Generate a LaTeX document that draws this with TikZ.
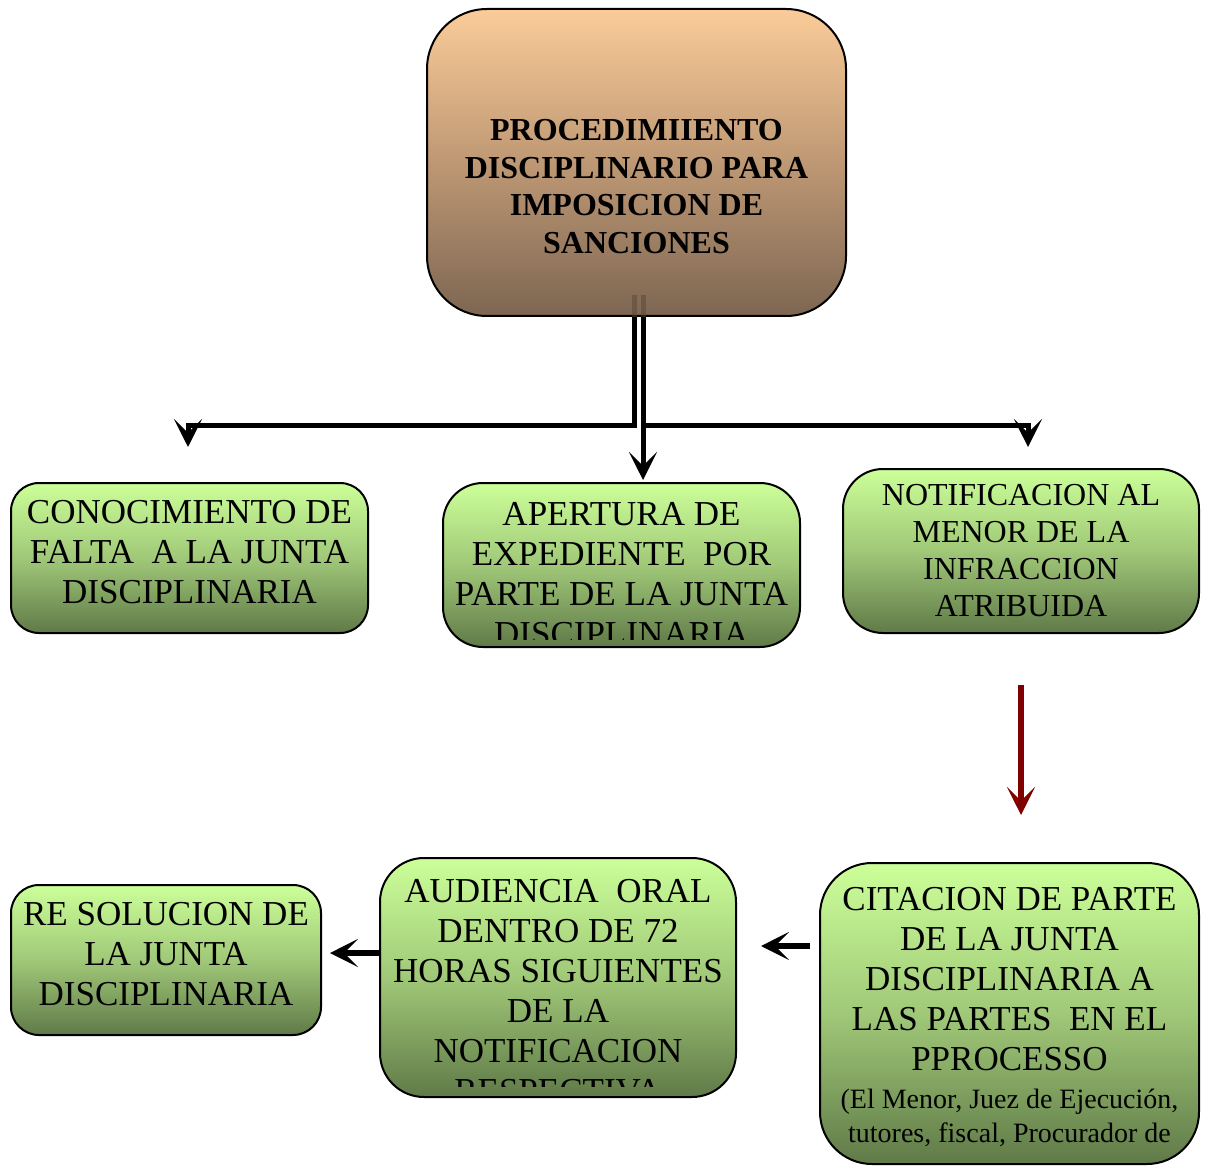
\documentclass[tikz,border=0pt]{standalone}
\usepackage{fontspec}
\setmainfont{Liberation Serif}
\usetikzlibrary{arrows.meta, positioning}

\definecolor{peach}{RGB}{251,204,153}
\definecolor{tan}{RGB}{190,152,116}
\definecolor{umber}{RGB}{125,102,82}
\definecolor{lgreen}{RGB}{204,255,153}
\definecolor{mgreen}{RGB}{160,200,120}
\definecolor{dgreen}{RGB}{96,122,72}
\definecolor{darkred}{RGB}{128,0,0}

\begin{document}
\begin{tikzpicture}[x=0.5pt, y=-0.5pt, >={Stealth[length=14pt, width=14pt, inset=7pt]}]
  % Define styles
  \tikzstyle{titlebox} = [rectangle, draw=black, line width=1pt, top color=peach, bottom color=umber, middle color=tan, rounded corners=30pt, minimum width=209.5pt, minimum height=153.5pt, inner sep=0pt]
  \tikzstyle{gbox} = [rectangle, draw=black, line width=1pt, top color=lgreen, bottom color=dgreen, middle color=mgreen, rounded corners=15pt, minimum width=178.5pt, minimum height=75pt, align=center, inner sep=0pt, font=\fontsize{17.5}{20}\selectfont]
  \tikzstyle{gtext} = [align=center, inner sep=0pt, anchor=north, font=\fontsize{17.5}{20}\selectfont]
  \tikzstyle{conn} = [draw=black, line width=2.5pt]
  \tikzstyle{fat} = [draw=black, line width=3pt]
  \tikzstyle{redconn} = [draw=darkred, line width=3pt]

  \useasboundingbox (0,0) rectangle (1205,1166);

  % Nodes
  \node[titlebox] (top) at (636.5,162.5) {};
  \node[gtext, font=\bfseries\fontsize{16}{18.75}\selectfont] (t0) at (636.5,119) {PROCEDIMIIENTO\\DISCIPLINARIO PARA\\IMPOSICION DE\\SANCIONES};

  \node[gbox, rounded corners=14pt] (b1) at (189.5,558) {};
  \node[gtext] (t1) at (189.5,500) {CONOCIMIENTO DE\\FALTA~ A LA JUNTA\\DISCIPLINARIA};
  \node[gbox, minimum height=82pt, rounded corners=20pt] (b2) at (621.5,565) {};
  \node[gbox, minimum width=178pt, minimum height=82pt, rounded corners=20pt, font=\fontsize{16}{18.5}\selectfont] (b3) at (1021,551) {NOTIFICACION AL\\MENOR DE LA\\INFRACCION\\ATRIBUIDA};

  \node[gbox, minimum width=155pt, rounded corners=14pt] (b4) at (166,960) {};
  \node[gtext] (t4) at (166,902) {RE SOLUCION DE\\LA JUNTA\\DISCIPLINARIA};
  \node[gbox, minimum width=178pt, minimum height=119.5pt, rounded corners=22pt] (b5) at (558,977.5) {};
  \node[gbox, minimum width=189.5pt, minimum height=150.5pt, rounded corners=26pt] (b6) at (1009.5,1013.5) {};

  % Texts cut by the box edge
  \begin{scope}
    \clip ([yshift=4.5pt]b2.south west) rectangle (b2.north east);
    \node[gtext] (t2) at (621.5,502) {APERTURA DE\\EXPEDIENTE~ POR\\PARTE DE LA JUNTA\\DISCIPLINARIA};
  \end{scope}
  \begin{scope}
    \clip ([yshift=6pt]b5.south west) rectangle (b5.north east);
    \node[gtext] (t5) at (558,879) {AUDIENCIA~ ORAL\\DENTRO DE 72\\HORAS SIGUIENTES\\DE LA\\NOTIFICACION\\RESPECTIVA};
  \end{scope}
  \node[gtext] (t6) at (1009.5,887) {CITACION DE PARTE\\DE LA JUNTA\\DISCIPLINARIA A\\LAS PARTES~ EN EL\\PPROCESSO};
  \node[gtext, below=8.5pt of t6, font=\fontsize{14}{17}\selectfont] (t6b) {(El Menor, Juez de Ejecución,\\tutores, fiscal, Procurador de};

  % Free ends
  \coordinate (kl) at (188,425);
  \coordinate (tl) at (188,447);
  \coordinate (kr) at (1028,425);
  \coordinate (tr) at (1028,447);
  \coordinate (tm) at (643,480);
  \coordinate (r6) at (1021,815);
  \coordinate (a5) at (761,946);
  \coordinate (a4) at (330,953);

  % Arrows
  \draw[umber!70!black, line width=2.5pt, opacity=.5] ([xshift=-1.25pt, yshift=11pt]top.south) -- ([xshift=-1.25pt]top.south);
  \draw[umber!70!black, line width=2.5pt, opacity=.5] ([xshift=3.25pt, yshift=11pt]top.south) -- ([xshift=3.25pt]top.south);
  \draw[conn, ->] ([xshift=-1.25pt]top.south) |- (kl) -- (tl);
  \draw[conn, ->] ([xshift=3.25pt]top.south) |- (kr) -- (tr);
  \draw[conn, ->] ([xshift=3.25pt]top.south) -- (tm);

  \draw[redconn, ->] ([yshift=-25.5pt]b3.south) -- (r6);
  \draw[fat, ->] ([xshift=-4.5pt]b6.west |- a5) -- (a5);
  \draw[fat, ->] (b5.west |- a4) -- (a4);
\end{tikzpicture}
\end{document}
